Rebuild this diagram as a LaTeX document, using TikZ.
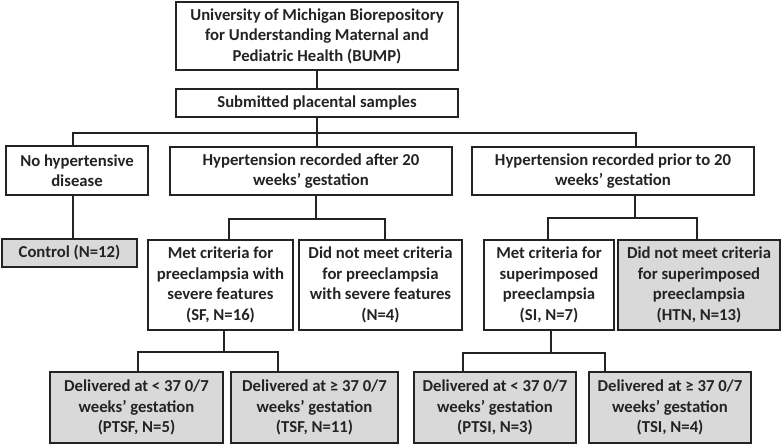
\documentclass[tikz,border=0pt]{standalone}
\usepackage{fontspec}
\setmainfont{Carlito}
\usepackage{xcolor}
\definecolor{boxgray}{RGB}{217,217,217}
\definecolor{inkgray}{RGB}{35,35,35}

\begin{document}
\begin{tikzpicture}[x=1pt, y=-1pt,
    box/.style={draw=inkgray, line width=1.1pt, align=center, inner sep=0pt, text=inkgray,
        font=\fontsize{16.7}{20.5}\selectfont\bfseries},
    shaded/.style={box, fill=boxgray, line width=1.9pt},
    link/.style={draw=inkgray, line width=1.1pt}]
    \useasboundingbox (0,0) rectangle (783,444);

    % Source and samples
    \node[box, minimum width=282pt, minimum height=68pt] (bump) at (317,36)
        {University of Michigan Biorepository\\for Understanding Maternal and\\Pediatric Health (BUMP)};
    \node[box, minimum width=282pt, minimum height=28pt] (submitted) at (317,103)
        {Submitted placental samples};

    % Hypertension groups
    \node[box, minimum width=142pt, minimum height=49pt] (nohtn) at (77,170.5)
        {No hypertensive\\disease};
    \node[box, minimum width=282pt, minimum height=48pt] (htnafter) at (311,171)
        {Hypertension recorded after 20\\weeks’ gestation};
    \node[box, minimum width=282pt, minimum height=48pt] (htnprior) at (613,171)
        {Hypertension recorded prior to 20\\weeks’ gestation};

    % Criteria
    \node[shaded, minimum width=135pt, minimum height=28pt] (control) at (69.5,253)
        {Control (N=12)};
    \node[box, minimum width=145pt, minimum height=90pt] (sf) at (220.5,285)
        {Met criteria for\\preeclampsia with\\severe features\\(SF, N=16)};
    \node[box, minimum width=163pt, minimum height=90pt] (nosf) at (380.5,285)
        {Did not meet criteria\\for preeclampsia\\with severe features\\(N=4)};
    \node[box, minimum width=130pt, minimum height=90pt] (si) at (549,285)
        {Met criteria for\\superimposed\\preeclampsia\\(SI, N=7)};
    \node[shaded, minimum width=162pt, minimum height=90pt] (htn) at (699,285)
        {Did not meet criteria\\for superimposed\\preeclampsia\\(HTN, N=13)};

    % Delivery
    \node[shaded, minimum width=173pt, minimum height=71pt] (ptsf) at (136.5,407.5)
        {Delivered at < 37 0/7\\weeks’ gestation\\(PTSF, N=5)};
    \node[shaded, minimum width=167pt, minimum height=71pt] (tsf) at (314.5,407.5)
        {Delivered at ≥ 37 0/7\\weeks’ gestation\\(TSF, N=11)};
    \node[shaded, minimum width=162pt, minimum height=71pt] (ptsi) at (495,407.5)
        {Delivered at < 37 0/7\\weeks’ gestation\\(PTSI, N=3)};
    \node[shaded, minimum width=162pt, minimum height=71pt] (tsi) at (670,407.5)
        {Delivered at ≥ 37 0/7\\weeks’ gestation\\(TSI, N=4)};

    % Branch points
    \coordinate (j1l) at (73,133);
    \coordinate (j1r) at (636,133);
    \coordinate (j2) at (316,219);
    \coordinate (j2l) at (229,219);
    \coordinate (j2r) at (385,219);
    \coordinate (j3) at (635,218);
    \coordinate (j3l) at (548,218);
    \coordinate (j3r) at (697,218);
    \coordinate (j4) at (224,352);
    \coordinate (j4l) at (138,352);
    \coordinate (j4r) at (278,352);
    \coordinate (j5) at (551,353);
    \coordinate (j5l) at (463,353);
    \coordinate (j5r) at (605,353);

    % Connectors
    \draw[link] (bump.south) -- (submitted.north);
    \draw[link] (submitted.south) -- (submitted.south |- htnafter.north);
    \draw[link] (j1l |- nohtn.north) -- (j1l) -- (j1r) -- (j1r |- htnprior.north);
    \draw[link] (j1l |- nohtn.south) -- (j1l |- control.north);

    \draw[link] (j2 |- htnafter.south) -- (j2);
    \draw[link] (j2l |- sf.north) -- (j2l) -- (j2r) -- (j2r |- nosf.north);
    \draw[link] (j3 |- htnprior.south) -- (j3);
    \draw[link] (j3l |- si.north) -- (j3l) -- (j3r) -- (j3r |- htn.north);

    \draw[link] (j4 |- sf.south) -- (j4);
    \draw[link] (j4l |- ptsf.north) -- (j4l) -- (j4r) -- (j4r |- tsf.north);
    \draw[link] (j5 |- si.south) -- (j5);
    \draw[link] (j5l |- ptsi.north) -- (j5l) -- (j5r) -- (j5r |- tsi.north);
\end{tikzpicture}
\end{document}
